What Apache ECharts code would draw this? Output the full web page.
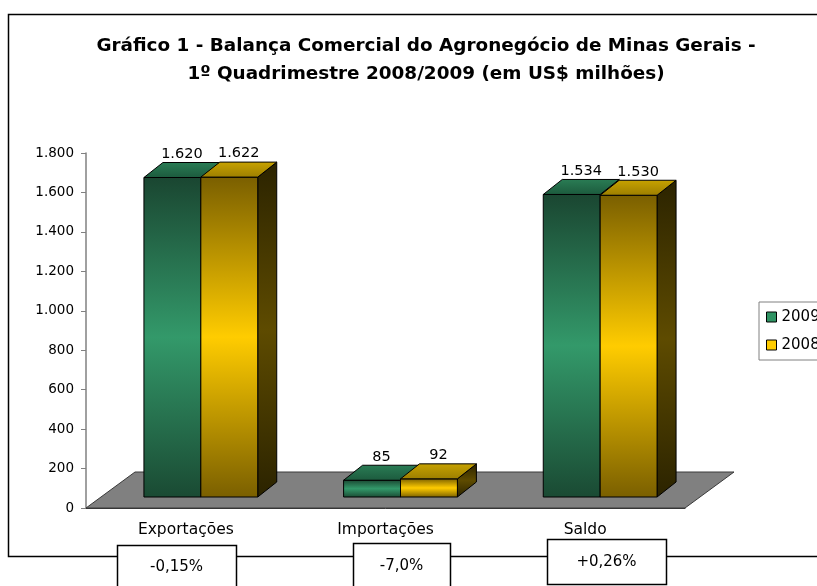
<!DOCTYPE html>
<html>
<head>
<meta charset="utf-8">
<script src="https://cdn.jsdelivr.net/npm/echarts@6/dist/echarts.min.js"></script>
<style>html,body{margin:0;padding:0;background:#fff;}#c{width:817px;height:586px;}</style>
</head>
<body>
<div id="c"></div>
<script>
const categories = ['Exportações', 'Importações', 'Saldo'];
const years = ['2009', '2008'];
const values2009 = [1620, 85, 1534];
const values2008 = [1622, 92, 1530];
const yMin = 0, yMax = 1800, yStep = 200;
const changes = ['-0,15%', '-7,0%', '+0,26%'];
const titleLines = ['Gráfico 1 - Balança Comercial do Agronegócio de Minas Gerais -', '1º Quadrimestre 2008/2009 (em US$ milhões)'];

const FONT = '"DejaVu Sans", "Liberation Sans", Arial, sans-serif';
const fmt = n => String(n).replace(/\B(?=(\d{3})+(?!\d))/g, '.');
const LG = echarts.graphic.LinearGradient;

// 3D styling constants
const FRONT_DX = 15, FRONT_DY = 11;   // bar front face offset from floor front
const DX = 19, DY = 15;               // bar depth
const FLOOR_DX = 49, FLOOR_DY = 36;   // floor depth
const BAR_FRAC = 0.285;

const palettes = [
  { // 2009 green
    legend: '#2f9363',
    front: ['#1a4631', '#33996a', '#1a4a33'],
    top: ['#1c5a3d', '#2a7d55'],
    side: ['#0e2a1c', '#1f5a3c', '#0e2a1c']
  },
  { // 2008 yellow
    legend: '#ffcc00',
    front: ['#7a5f00', '#ffcc00', '#7a5f00'],
    top: ['#9c7e00', '#c8a300'],
    side: ['#2b2300', '#5e4b00', '#2b2300']
  }
];

function v3(c) { return new LG(0, 0, 0, 1, [{offset: 0, color: c[0]}, {offset: 0.5, color: c[1]}, {offset: 1, color: c[2]}]); }

function makeRender(k) {
  const p = palettes[k];
  return function (params, api) {
    const cat = api.value(0), v = api.value(1);
    const base = api.coord([cat, 0]);
    const top = api.coord([cat, v]);
    const bandW = api.size([1, 0])[0];
    const w = bandW * BAR_FRAC;
    const xL = base[0] + FRONT_DX - w + k * w;
    const yB = base[1] - FRONT_DY;
    const yT = top[1] - FRONT_DY;
    const stroke = {stroke: '#000', lineWidth: 1};
    return {
      type: 'group',
      children: [
        {type: 'polygon', shape: {points: [[xL + w, yT], [xL + w + DX, yT - DY], [xL + w + DX, yB - DY], [xL + w, yB]]},
          style: Object.assign({fill: v3(p.side)}, stroke)},
        {type: 'rect', shape: {x: xL, y: yT, width: w, height: yB - yT},
          style: Object.assign({fill: v3(p.front)}, stroke)},
        {type: 'polygon', shape: {points: [[xL, yT], [xL + w, yT], [xL + w + DX, yT - DY], [xL + DX, yT - DY]]},
          style: Object.assign({fill: new LG(0, 1, 0, 0, [{offset: 0, color: p.top[0]}, {offset: 1, color: p.top[1]}])}, stroke)},
        {type: 'text', style: {text: fmt(v), x: xL + w / 2 + DX / 2, y: yT - DY - 1, align: 'center', verticalAlign: 'bottom',
          fontSize: 14.5, fontFamily: FONT, fill: '#000'}}
      ]
    };
  };
}

function renderFloor(params, api) {
  const cs = params.coordSys;
  const x0 = cs.x, x1 = cs.x + cs.width, y0 = cs.y + cs.height;
  return {
    type: 'polygon',
    shape: {points: [[x0, y0], [x1, y0], [x1 + FLOOR_DX, y0 - FLOOR_DY], [x0 + FLOOR_DX, y0 - FLOOR_DY]]},
    style: {fill: '#808080', stroke: '#3a3a3a', lineWidth: 1}
  };
}

const chart = echarts.init(document.getElementById('c'), null, {renderer: 'canvas'});

const boxes = [
  {x: 117, y: 545, w: 119, h: 50, ty: 567},
  {x: 353, y: 543, w: 97, h: 50, ty: 566},
  {x: 547, y: 539, w: 119, h: 45, ty: 562}
];

const graphics = [
  {type: 'rect', shape: {x: 8.5, y: 14.5, width: 900, height: 542}, style: {fill: 'none', stroke: '#000', lineWidth: 1.5}, z: 0, silent: true}
];
boxes.forEach((b, i) => {
  graphics.push({type: 'rect', shape: {x: b.x + 0.5, y: b.y + 0.5, width: b.w, height: b.h}, style: {fill: '#fff', stroke: '#000', lineWidth: 1.5}, z: 10});
  graphics.push({type: 'text', style: {text: changes[i], x: b.x + b.w / 2, y: b.ty, align: 'center', verticalAlign: 'middle', fontSize: 15, fontFamily: FONT, fill: '#000'}, z: 11});
});

chart.setOption({
  animation: false,
  backgroundColor: '#fff',
  title: {
    text: titleLines.join('\n'),
    left: 421, top: 27, textAlign: 'center',
    textStyle: {fontSize: 18.4, fontWeight: 'bold', fontFamily: FONT, color: '#000', lineHeight: 28}
  },
  legend: {
    data: years,
    orient: 'vertical',
    left: 759, top: 302,
    icon: 'rect', itemWidth: 10, itemHeight: 10, itemGap: 10,
    padding: [6, 40, 6, 7],
    borderColor: '#808080', borderWidth: 1,
    itemStyle: {borderColor: '#000', borderWidth: 1},
    textStyle: {fontSize: 15, fontFamily: FONT, color: '#000', lineHeight: 18}
  },
  grid: {left: 86, right: 132, top: 153, bottom: 78, containLabel: false},
  xAxis: {
    type: 'category', data: categories,
    axisLine: {lineStyle: {color: '#333', width: 1}},
    axisTick: {length: 5, lineStyle: {color: '#333'}},
    axisLabel: {margin: 14, fontSize: 15.5, fontFamily: FONT, color: '#000'}
  },
  yAxis: {
    type: 'value', min: yMin, max: yMax, interval: yStep,
    axisLine: {show: true, lineStyle: {color: '#808080', width: 1.5}},
    axisTick: {show: true, length: 5, lineStyle: {color: '#808080'}},
    splitLine: {show: false},
    axisLabel: {margin: 12, fontSize: 13.5, fontFamily: FONT, color: '#000', formatter: v => fmt(v)}
  },
  series: [
    {type: 'custom', name: 'floor', renderItem: renderFloor, data: [[0, 0]], z: 1, silent: true, encode: {x: 0, y: 1}},
    {type: 'custom', name: years[0], renderItem: makeRender(0), data: values2009.map((v, i) => [i, v]), encode: {x: 0, y: 1}, z: 2,
      itemStyle: {color: palettes[0].legend, borderColor: '#000', borderWidth: 1}},
    {type: 'custom', name: years[1], renderItem: makeRender(1), data: values2008.map((v, i) => [i, v]), encode: {x: 0, y: 1}, z: 3,
      itemStyle: {color: palettes[1].legend, borderColor: '#000', borderWidth: 1}}
  ],
  graphic: graphics
});
</script>
</body>
</html>
